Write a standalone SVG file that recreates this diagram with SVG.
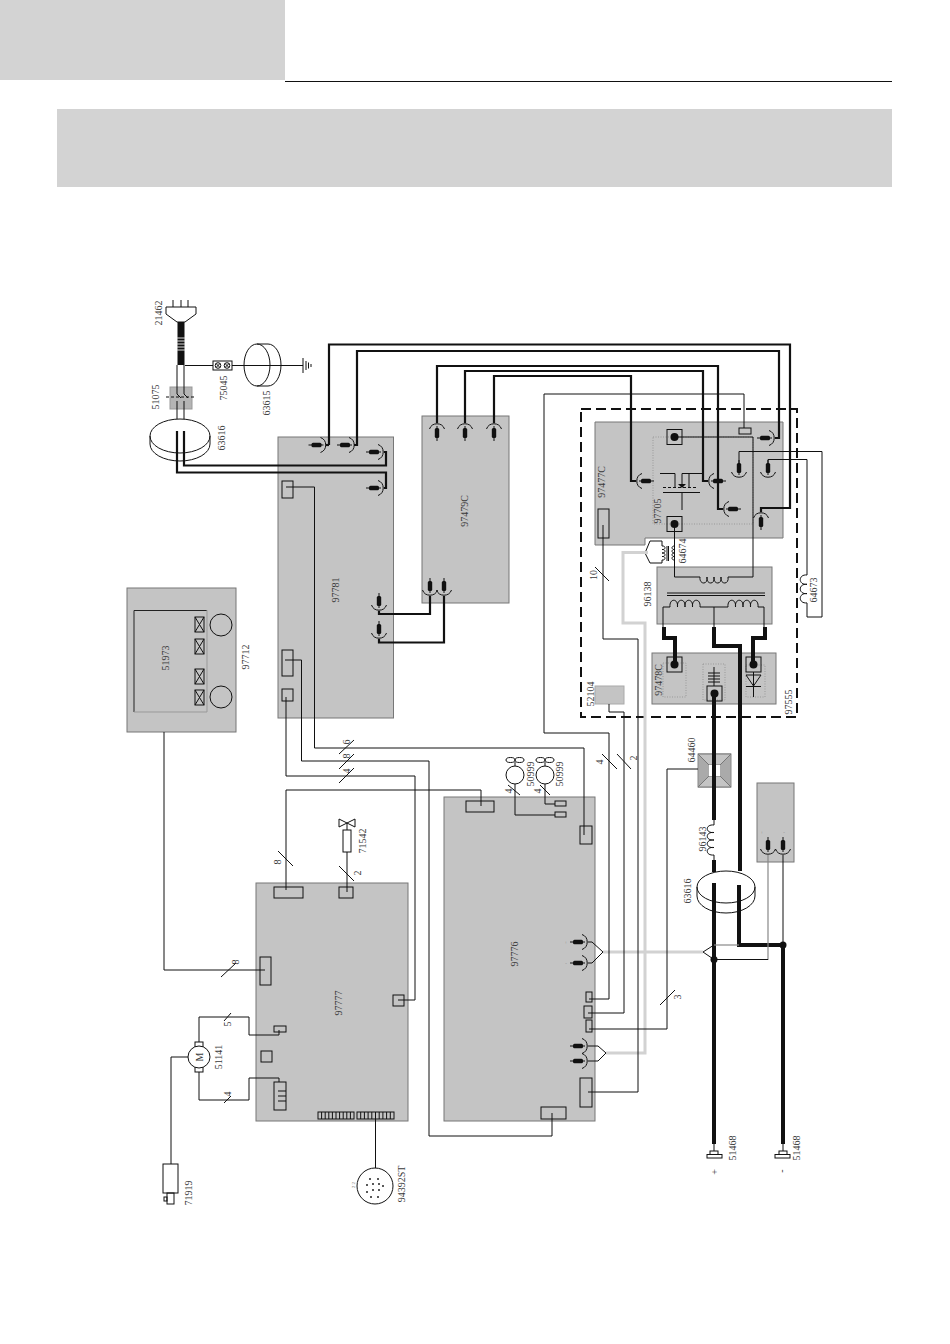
<svg xmlns="http://www.w3.org/2000/svg" xmlns:xlink="http://www.w3.org/1999/xlink" width="950" height="1344" viewBox="0 0 950 1344">
<style>
text{font-family:"Liberation Serif","Times New Roman",serif;font-size:10px;fill:#3a3a3a;text-anchor:middle}
.tiny{font-size:5px;fill:#777}
.bd{fill:#c4c4c4;stroke:#777;stroke-width:1}
.ln{fill:none;stroke:#111;stroke-width:1}
.th{fill:none;stroke:#111;stroke-width:2.2}
.xt{fill:none;stroke:#111;stroke-width:4}
.gw{fill:none;stroke:#d2d2d2;stroke-width:3}
.box{fill:none;stroke:#111;stroke-width:1}
.dot{fill:none;stroke:#999;stroke-width:1;stroke-dasharray:1 1.5}
.wb{fill:#fff;stroke:#111;stroke-width:1}
</style>
<defs>
<g id="cn"><path class="ln" d="M-6,-7.5A8,8 0 0 1 -6,7.5"/><rect x="-15" y="-2.2" width="10" height="4.4" rx="1.5" fill="#111"/><path class="ln" d="M-18,0H-14M-6,0H-3"/></g>
<g id="tm"><rect class="box" x="-7.5" y="-7.5" width="15" height="15"/><circle r="4" fill="#111"/></g>
<g id="fan"><ellipse cx="-4.5" cy="-15" rx="4.5" ry="2.5" class="ln"/><ellipse cx="4.5" cy="-15" rx="4.5" ry="2.5" class="ln"/><path class="ln" d="M0,-13V-9"/><circle r="9" class="ln"/></g>
<g id="xb"><rect class="box" x="0" y="0" width="9" height="15"/><path class="ln" d="M0,0L9,15M9,0L0,15"/></g>
</defs>

<g id="header">
<rect x="0" y="0" width="285" height="80" fill="#d3d3d3"/>
<path d="M285,81.500H892" stroke="#111" stroke-width="1" fill="none"/>
<rect x="57" y="109" width="835" height="78" fill="#d3d3d3"/>
</g>

<g id="n97781"><rect class="bd" x="278" y="437" width="115.500" height="281"/>
<use xlink:href="#cn" href="#cn" transform="translate(326.500,445)"/>
<use xlink:href="#cn" href="#cn" transform="translate(355,445)"/>
<use xlink:href="#cn" href="#cn" transform="translate(384,452)"/>
<use xlink:href="#cn" href="#cn" transform="translate(384,488)"/>
<use xlink:href="#cn" href="#cn" transform="translate(379,611) rotate(90)"/>
<use xlink:href="#cn" href="#cn" transform="translate(379,639) rotate(90)"/>
<rect class="box" x="282" y="481" width="11" height="17"/><rect class="box" x="282" y="650" width="11" height="26"/><rect class="box" x="282" y="689" width="11" height="12"/>
<text transform="translate(335 590) rotate(-90)" dy="3.500">97781</text></g>

<g id="n97479C"><rect class="bd" x="422" y="416" width="87" height="187"/>
<use xlink:href="#cn" href="#cn" transform="translate(437,423) rotate(-90)"/>
<use xlink:href="#cn" href="#cn" transform="translate(465,423) rotate(-90)"/>
<use xlink:href="#cn" href="#cn" transform="translate(494,423) rotate(-90)"/>
<use xlink:href="#cn" href="#cn" transform="translate(430,596) rotate(90)"/>
<use xlink:href="#cn" href="#cn" transform="translate(444,596) rotate(90)"/>
<text transform="translate(464 511) rotate(-90)" dy="3.500">97479C</text></g>

<g id="n97712"><rect class="bd" x="127" y="588" width="109" height="144"/>
<path d="M134,712V610.500H207" fill="none" stroke="#222"/><path d="M134,712H207V610" fill="none" stroke="#999"/>
<circle class="ln" cx="221" cy="625" r="11"/><circle class="ln" cx="221" cy="697" r="11"/>
<use xlink:href="#xb" href="#xb" x="195" y="617"/><use xlink:href="#xb" href="#xb" x="195" y="639"/><use xlink:href="#xb" href="#xb" x="195" y="669"/><use xlink:href="#xb" href="#xb" x="195" y="690"/>
<text transform="translate(165 658) rotate(-90)" dy="3.500">51973</text>
<text transform="translate(245 657) rotate(-90)" dy="3.500">97712</text></g>

<g id="n97477C"><path class="bd" d="M595,422H783V538H645V545H595Z"/>
<rect class="dot" x="653" y="437" width="100" height="87"/>
<rect class="box" x="598" y="509" width="11" height="29"/>
<rect class="box" x="739" y="428" width="12" height="6"/>
<use xlink:href="#tm" href="#tm" transform="translate(674.500,437)"/>
<use xlink:href="#tm" href="#tm" transform="translate(674.500,524)"/>
<use xlink:href="#cn" href="#cn" transform="translate(636,481) rotate(180)"/>
<use xlink:href="#cn" href="#cn" transform="translate(708,481) rotate(180)"/>
<use xlink:href="#cn" href="#cn" transform="translate(723,509) rotate(180)"/>
<use xlink:href="#cn" href="#cn" transform="translate(761,512) rotate(-90)"/>
<use xlink:href="#cn" href="#cn" transform="translate(775,438)"/>
<use xlink:href="#cn" href="#cn" transform="translate(739,478) rotate(90)"/>
<use xlink:href="#cn" href="#cn" transform="translate(768,478) rotate(90)"/>
<path class="ln" d="M660,473.500H675V487M682,473.500H703M689,473.500V487M682,473.500V484M682,492V510"/>
<path d="M678,484H686L682,488Z" fill="#111"/>
<path d="M663,487.500H697" fill="none" stroke="#111" stroke-dasharray="3 2"/>
<path class="ln" d="M663,492.500H700"/>
<text transform="translate(601 482) rotate(-90)" dy="3.500">97477C</text>
<text transform="translate(657 511) rotate(-90)" dy="3.500">97705</text></g>

<g id="n64674">
<path class="ln" d="M662,541H650L645,553L650,563H662M662,541V546M662,560V563"/>
<path class="ln" d="M662,546c4,-.5 4,4 0,3.500c4,-.5 4,4 0,3.500c4,-.5 4,4 0,3.500c4,-.5 4,4 0,3.500"/>
<path class="ln" d="M667,546V561M668.500,546V561"/>
<path class="ln" d="M675,546c-4,-.5 -4,4 0,3.500c-4,-.5 -4,4 0,3.500c-4,-.5 -4,4 0,3.500c-4,-.5 -4,4 0,3.500"/>
<text transform="translate(682 551) rotate(-90)" dy="3.500">64674</text></g>

<g id="n96138"><rect class="bd" x="657" y="567" width="115" height="57"/>
<path class="ln" d="M700,577c-1,8 8.500,8 7,0c-1,8 8.500,8 7,0c-1,8 8.500,8 7,0c-1,8 8.500,8 7,0"/>
<path class="ln" d="M667,593H765M667,595.500H765"/>
<path class="ln" d="M663,627V607H670c-1,-9 8.500,-9 7.500,0c-1,-9 8.500,-9 7.500,0c-1,-9 8.500,-9 7.500,0c-1,-9 8.500,-9 7.500,0H728c-1,-9 8.500,-9 7.500,0c-1,-9 8.500,-9 7.500,0c-1,-9 8.500,-9 7.500,0c-1,-9 8.500,-9 7.500,0H764V627M714,607V627"/>
<text transform="translate(647 594) rotate(-90)" dy="3.500">96138</text></g>

<g id="n97478C"><rect class="bd" x="652" y="653" width="124" height="51"/>
<rect class="dot" x="663" y="663" width="23" height="34"/><rect class="dot" x="703" y="664" width="22" height="36"/><rect class="dot" x="746" y="665" width="19" height="32"/>
<use xlink:href="#tm" href="#tm" transform="translate(674.500,664.500)"/>
<use xlink:href="#tm" href="#tm" transform="translate(753.500,664.500)"/>
<use xlink:href="#tm" href="#tm" transform="translate(714.500,693.500)"/>
<path class="ln" d="M714,667V686M708,673H720M708,676H720M708,679H720M708,682H720"/>
<path class="ln" d="M746,675H761L753.500,686ZM746,686.500H761M753.500,672V697"/>
<text transform="translate(658 680) rotate(-90)" dy="3.500">97478C</text></g>

<g id="n52104"><rect x="595" y="686" width="29" height="18" fill="#c4c4c4" stroke="#aaa"/>
<text transform="translate(590 694) rotate(-90)" dy="3.500">52104</text></g>

<g id="n97555"><rect x="581" y="409" width="216" height="308" fill="none" stroke="#111" stroke-width="2" stroke-dasharray="10 5"/>
<text transform="translate(788 702) rotate(-90)" dy="3.500">97555</text></g>

<g id="n64673"><path class="ln" d="M807,575c-9,-1 -9,10.300 0,9.300c-9,-1 -9,10.300 0,9.300c-9,-1 -9,10.300 0,9.300"/>
<text transform="translate(813 590) rotate(-90)" dy="3.500">64673</text></g>

<g id="n97776"><rect class="bd" x="444" y="797" width="151" height="324"/>
<rect class="box" x="466" y="801" width="28" height="11"/>
<rect class="box" x="555" y="801" width="11" height="5"/><rect class="box" x="555" y="812" width="11" height="5"/>
<rect class="box" x="580" y="826" width="12" height="18"/>
<use xlink:href="#cn" href="#cn" transform="translate(588,942)"/><use xlink:href="#cn" href="#cn" transform="translate(588,963)"/>
<use xlink:href="#cn" href="#cn" transform="translate(588,1046)"/><use xlink:href="#cn" href="#cn" transform="translate(588,1061)"/>
<text class="tiny" x="566" y="944">+</text><text class="tiny" x="566" y="965">-</text>
<path class="ln" d="M588,942H592L603,952L592,963H588"/>
<path class="ln" stroke="#555" d="M588,1046H598L606,1053L598,1061H588"/>
<rect class="box" x="586" y="992" width="6" height="10"/><rect class="box" x="584" y="1006" width="8" height="12"/><rect class="box" x="586" y="1020" width="6" height="12"/>
<rect class="box" x="580" y="1078" width="12" height="29"/>
<rect class="box" x="541" y="1107" width="25" height="12"/>
<text transform="translate(514 954) rotate(-90)" dy="3.500">97776</text></g>

<g id="n50999a"><use xlink:href="#fan" href="#fan" transform="translate(515,775)"/><text transform="translate(530 774) rotate(-90)" dy="3.500">50999</text></g>
<g id="n50999b"><use xlink:href="#fan" href="#fan" transform="translate(545,775)"/><text transform="translate(559 774) rotate(-90)" dy="3.500">50999</text></g>

<g id="n97777"><rect class="bd" x="256" y="883" width="152" height="238"/>
<rect class="box" x="274" y="887" width="29" height="11"/><rect class="box" x="339" y="887" width="14" height="11"/>
<rect class="box" x="260" y="957" width="11" height="28"/>
<rect class="box" x="393" y="995" width="11" height="11"/>
<rect class="box" x="274" y="1026" width="12" height="6"/>
<rect class="box" x="261" y="1051" width="11" height="11"/>
<rect class="box" x="274" y="1082" width="12" height="28"/>
<path class="ln" d="M278,1091H286M278,1096H286M278,1101H286"/>
<rect class="box" x="318" y="1112" width="36" height="7"/>
<path class="ln" d="M321.600,1112v7M325.200,1112v7M328.800,1112v7M332.400,1112v7M336,1112v7M339.600,1112v7M343.200,1112v7M346.800,1112v7M350.400,1112v7"/>
<rect class="box" x="357" y="1112" width="37" height="7"/>
<path class="ln" d="M360.700,1112v7M364.400,1112v7M368.100,1112v7M371.800,1112v7M375.500,1112v7M379.200,1112v7M382.900,1112v7M386.600,1112v7M390.300,1112v7"/>
<text transform="translate(338 1003) rotate(-90)" dy="3.500">97777</text></g>

<g id="n51141"><rect class="box" x="195" y="1042" width="8" height="5"/><rect class="box" x="195" y="1067" width="8" height="5"/>
<circle class="wb" cx="199" cy="1057" r="11"/>
<text transform="translate(199 1057) rotate(-90)" dy="3.500">M</text>
<text transform="translate(218 1057) rotate(-90)" dy="3.500">51141</text></g>

<g id="n71919"><rect class="box" x="163" y="1164" width="15" height="29"/><rect class="box" x="167" y="1193" width="7" height="11"/><rect class="box" x="164" y="1197" width="3" height="4"/>
<text transform="translate(188 1193) rotate(-90)" dy="3.500">71919</text></g>

<g id="n94392ST"><circle class="ln" cx="375" cy="1186" r="18"/>
<g fill="#222"><circle cx="370" cy="1179" r="1"/><circle cx="378" cy="1179" r="1"/><circle cx="367" cy="1185" r="1"/><circle cx="373" cy="1184" r="1"/><circle cx="379" cy="1184" r="1"/><circle cx="383" cy="1186" r="1"/><circle cx="367" cy="1192" r="1"/><circle cx="373" cy="1190" r="1"/><circle cx="379" cy="1190" r="1"/><circle cx="371" cy="1197" r="1"/><circle cx="378" cy="1197" r="1"/></g>
<text class="tiny" transform="translate(353 1185) rotate(-90)" dy="2">2 2</text>
<text transform="translate(401 1184) rotate(-90)" dy="3.500">94392ST</text></g>

<g id="n71542"><path class="ln" d="M339,819L355,827V819L339,827Z"/><rect class="box" x="343" y="830" width="8" height="22"/>
<text transform="translate(362 841) rotate(-90)" dy="3.500">71542</text></g>

<g id="n21462"><path class="ln" d="M173,300V307M181,300V307M188,300V307"/><path class="ln" d="M166,307H196V314L185,322H177L166,314Z"/>
<rect x="177.500" y="322" width="7" height="43" fill="#111"/>
<path d="M177,338H185M177,341H185M177,344H185M177,347H185M177,350H185" stroke="#ddd" stroke-width="1"/>
<text transform="translate(158 313) rotate(-90)" dy="3.500">21462</text></g>

<g id="n51075"><rect x="170" y="387" width="22" height="22" fill="#b5b5b5" stroke="#999"/>
<path d="M166,397H196" fill="none" stroke="#111" stroke-dasharray="3 2"/>
<text transform="translate(155 397) rotate(-90)" dy="3.500">51075</text></g>

<g id="n75045"><rect class="box" x="213" y="361" width="19" height="9"/><circle class="ln" cx="218" cy="365.500" r="2.800"/><circle class="ln" cx="227" cy="365.500" r="2.800"/>
<path class="ln" d="M216,363.500L220,367.500M220,363.500L216,367.500M225,363.500L229,367.500M229,363.500L225,367.500"/>
<text transform="translate(223 388) rotate(-90)" dy="3.500">75045</text></g>

<g id="n63615"><ellipse class="ln" cx="257" cy="365" rx="13" ry="21"/><path class="ln" d="M257,344H268A13,21 0 0 1 268,386H257"/>
<path class="ln" d="M303,358V373M306,361V370M308.500,362.500V368.500M311,364V367"/>
<text transform="translate(266 403) rotate(-90)" dy="3.500">63615</text></g>

<g id="n63616a"><ellipse class="ln" cx="180" cy="436" rx="30" ry="17"/><path class="ln" d="M150,436V444A30,17 0 0 0 210,444V436"/>
<text transform="translate(221 438) rotate(-90)" dy="3.500">63616</text></g>

<g id="n63616b"><ellipse class="ln" cx="726" cy="887" rx="29" ry="16"/><path class="ln" d="M697,887V896A29,17 0 0 0 755,896V887"/>
<text transform="translate(687 891) rotate(-90)" dy="3.500">63616</text></g>

<g id="n96143"><text transform="translate(702 839) rotate(-90)" dy="3.500">96143</text></g>

<g id="n64460"><rect x="698" y="754" width="33" height="33" fill="#aaa" stroke="#888"/><path d="M698,754L731,754L720,765H709ZM698,787H731L720,776H709Z" fill="#c4c4c4" stroke="#777"/>
<rect x="709" y="765" width="11" height="11" fill="#fff"/>
<text transform="translate(691 750) rotate(-90)" dy="3.500">64460</text></g>

<g id="n_gray_box"><rect class="bd" x="757" y="783" width="37" height="79"/>
<use xlink:href="#cn" href="#cn" transform="translate(768,855) rotate(90)"/><use xlink:href="#cn" href="#cn" transform="translate(783,855) rotate(90)"/>
<text class="tiny" x="762" y="834">+</text><text class="tiny" x="784" y="834">-</text></g>

<g id="n51468a"><path class="ln" d="M714,1144V1151"/><rect class="box" x="710" y="1151" width="8" height="3.500"/><rect class="box" x="707" y="1154.500" width="15" height="3.500"/>
<text transform="translate(732 1148) rotate(-90)" dy="3.500">51468</text><text transform="translate(714 1172) rotate(-90)" dy="3.500">+</text></g>
<g id="n51468b"><path class="ln" d="M783,1144V1151"/><rect class="box" x="779" y="1151" width="8" height="3.500"/><rect class="box" x="775" y="1154.500" width="15" height="3.500"/>
<text transform="translate(796 1148) rotate(-90)" dy="3.500">51468</text><text transform="translate(781 1171) rotate(-90)" dy="3.500">-</text></g>

<g id="connectors">
<path class="gw" d="M648,552.500H623V623H645V1053H606"/>
<path class="gw" d="M603,952H703"/>

<path class="ln" d="M177,365V387M184,365V387M177,409V419M184,409V419M177,387V394L181,398M184,387V394L188,398M177,401V409M184,401V409"/>
<path class="ln" d="M185,365.500H213M232,365.500H303"/>

<path class="th" d="M329,445V344.500H790V508H761V512"/>
<path class="th" d="M775,438H779V351H357V445H354"/>
<path class="th" d="M326,445H329"/>
<path class="th" d="M177,431V472.500H386V488H384"/>
<path class="th" d="M184,431V465.500H386V452H384"/>
<path class="th" d="M437,423V366H718V509H723"/>
<path class="th" d="M465,423V371H703V481H708"/>
<path class="th" d="M494,423V376H631V481H636"/>
<path class="th" d="M379,611V614H430V596"/>
<path class="th" d="M379,639V642.500H444V596"/>

<path class="ln" d="M286,487H314.500V748H584V835"/>
<path class="ln" d="M285,660H301.500V761H429V1136H552V1113"/>
<path class="ln" d="M286,697V776H415V1000H398"/>
<path class="ln" d="M286,890V790H481V806"/>
<path class="ln" d="M347,823V830M347,852V892"/>
<path class="ln" d="M164,732V970H265"/>
<path class="ln" d="M744,428V394H544V733H609V999H589"/>
<path class="ln" d="M609,704V712H624V1013H588"/>
<path class="ln" d="M603,525V639H638V1092H588"/>
<path class="ln" d="M674.500,437H753V577H728M674.500,524V577H700"/>
<path class="ln" d="M739,470V451.500H822V617H807V603M768,470V459.500H807V575"/>
<path class="ln" d="M667,769H698M667,769V1029H589"/>
<path class="ln" d="M515,784V815H555M545,784V804H555"/>
<path class="ln" d="M199,1042V1017H249V1035H279V1030M199,1072V1100H249V1078H279V1082"/>
<path class="ln" d="M188,1057H171V1164M375.500,1119V1168"/>

<path class="xt" d="M664,627V638H675V664"/>
<path class="xt" d="M714,627V646H740V871"/>
<path class="xt" d="M765,627V638H753V664"/>
<path class="xt" d="M714,693V820"/>
<path class="xt" d="M714,860V872"/>
<path class="xt" d="M714,883V1144"/>
<path class="xt" d="M739,885V945H783V1144"/>
<circle cx="783" cy="945" r="3.500" fill="#111"/>
<circle cx="714" cy="959.500" r="3.500" fill="#111"/>
<path class="ln" d="M714,820V825c-9,-1 -9,8.500 0,7.500c-9,-1 -9,8.500 0,7.500c-9,-1 -9,8.500 0,7.500c-9,-1 -9,8.500 0,7.500V860"/>
<path class="ln" d="M783,855V945"/>
<path d="M768,855V960" fill="none" stroke="#888" stroke-width="1.200"/>
<path d="M714,945H739" fill="none" stroke="#888" stroke-width="1.200"/>
<path class="ln" d="M768,959.500H714L703,952L714,945"/>

<path class="ln" d="M278,851L293,866M339,866L354,881M339,754L354,740M339,769L354,754M339,783L354,768M602,754L617,769M617,754L631,769M595,567L609,581M660,1005L675,990M221,977L236,963M224,1021L231,1013M224,1103L231,1096M508,785L520,795M540,785L550,795"/>
<text transform="translate(277 862) rotate(-90)" dy="3.500">8</text>
<text transform="translate(357 873) rotate(-90)" dy="3.500">2</text>
<text transform="translate(346 742) rotate(-90)" dy="3.500">6</text>
<text transform="translate(346 756) rotate(-90)" dy="3.500">8</text>
<text transform="translate(346 771) rotate(-90)" dy="3.500">4</text>
<text transform="translate(599 762) rotate(-90)" dy="3.500">4</text>
<text transform="translate(633 758) rotate(-90)" dy="3.500">2</text>
<text transform="translate(593 575) rotate(-90)" dy="3.500">10</text>
<text transform="translate(677 997) rotate(-90)" dy="3.500">3</text>
<text transform="translate(235 962) rotate(-90)" dy="3.500">8</text>
<text transform="translate(227 1024) rotate(-90)" dy="3.500">5</text>
<text transform="translate(227 1094) rotate(-90)" dy="3.500">4</text>
<text transform="translate(508 791) rotate(-90)" dy="3.500">4</text>
<text transform="translate(537 791) rotate(-90)" dy="3.500">4</text>
</g>
</svg>
